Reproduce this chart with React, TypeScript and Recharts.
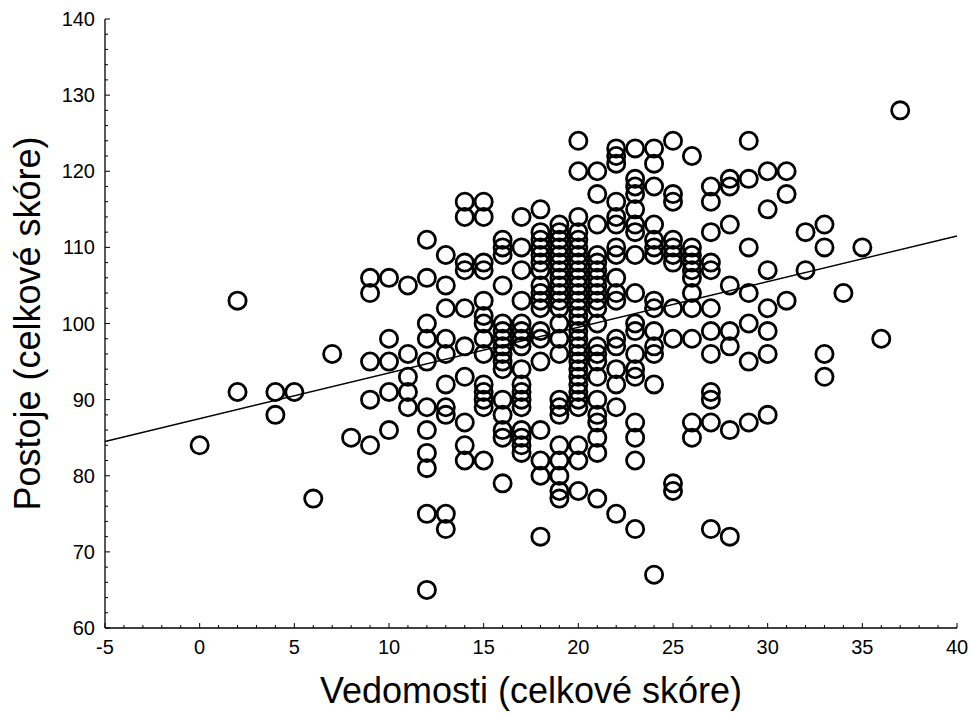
import { ScatterChart, Scatter, XAxis, YAxis, ReferenceLine, Label } from "recharts";

// Vedomosti score (x) and the Postoje scores observed at each x
const vedomosti = [0, 2, 4, 5, 6, 7, 8, 9, 10, 11, 12, 13, 14, 15, 16, 17, 18, 19, 20, 21, 22, 23, 24, 25, 26, 27, 28, 29, 30, 31, 32, 33, 34, 35, 36, 37];
const postoje = [
  [84],
  [103, 91],
  [91, 88],
  [91],
  [77],
  [96],
  [85],
  [106, 104, 95, 90, 84],
  [106, 98, 95, 91, 86],
  [105, 96, 93, 91, 89],
  [111, 106, 100, 98, 95, 89, 86, 83, 81, 75, 65],
  [109, 105, 102, 98, 96, 92, 89, 88, 75, 73],
  [116, 114, 108, 107, 102, 97, 93, 87, 84, 82],
  [116, 114, 108, 107, 103, 101, 100, 98, 96, 92, 91, 90, 89, 82],
  [111, 110, 109, 105, 100, 99, 98, 97, 96, 95, 94, 90, 88, 86, 85, 79],
  [114, 110, 107, 103, 100, 99, 98, 97, 94, 92, 91, 90, 89, 86, 85, 84, 83],
  [115, 112, 111, 110, 109, 108, 107, 105, 104, 103, 102, 99, 98, 95, 86, 82, 80, 72],
  [113, 112, 111, 110, 109, 108, 107, 106, 105, 104, 103, 102, 100, 98, 96, 90, 89, 88, 84, 82, 80, 78, 77],
  [124, 120, 114, 112, 111, 110, 109, 108, 107, 106, 105, 104, 103, 102, 101, 100, 99, 98, 97, 96, 95, 94, 93, 92, 91, 90, 89, 84, 82, 78],
  [120, 117, 113, 109, 108, 107, 106, 105, 104, 103, 102, 100, 97, 96, 95, 93, 90, 88, 87, 85, 83, 77],
  [123, 122, 121, 116, 114, 113, 110, 109, 106, 104, 103, 98, 97, 94, 92, 89, 75],
  [123, 119, 118, 117, 115, 113, 112, 109, 104, 100, 99, 96, 94, 93, 87, 85, 82, 73],
  [123, 121, 118, 113, 111, 110, 109, 103, 102, 99, 97, 96, 92, 67],
  [124, 117, 116, 111, 110, 109, 108, 102, 98, 79, 78],
  [122, 110, 109, 108, 107, 106, 104, 102, 98, 87, 85],
  [118, 116, 112, 108, 107, 102, 99, 96, 91, 90, 87, 73],
  [119, 118, 113, 105, 99, 97, 86, 72],
  [124, 119, 110, 104, 100, 95, 87],
  [120, 115, 107, 102, 99, 96, 88],
  [120, 117, 103],
  [112, 107],
  [113, 110, 96, 93],
  [104],
  [110],
  [98],
  [128],
];

// fitted regression line, ends at the x-axis limits
const fitX = [-5, 40];
const fitY = [84.5, 111.5];

const xMajor = [-5, 0, 5, 10, 15, 20, 25, 30, 35, 40];
const yMajor = [60, 70, 80, 90, 100, 110, 120, 130, 140];
const xTicks = Array.from({ length: 46 }, (_, i) => i - 5);
const yTicks = Array.from({ length: 41 }, (_, i) => 60 + i * 2);

const points = vedomosti.flatMap((x, i) => postoje[i].map((y) => ({ x, y })));

const FONT = "'Liberation Sans', Arial, sans-serif";

const Ring = (props: any) => (
  <circle cx={props.cx} cy={props.cy} r={8.6} fill="none" stroke="#000" strokeWidth={2.8} />
);

const BottomTick = ({ x, y, payload }: any) => {
  const major = xMajor.includes(payload.value);
  return (
    <g>
      <line x1={x} x2={x} y1={y} y2={y - (major ? 5 : 3)} stroke="#000" />
      {major && (
        <text x={x} y={y + 26} textAnchor="middle" fontSize={20} fontFamily={FONT} fill="#000">
          {payload.value}
        </text>
      )}
    </g>
  );
};

const TopTick = ({ x, y, payload }: any) => {
  const major = xMajor.includes(payload.value);
  return <line x1={x} x2={x} y1={y} y2={y + (major ? 5 : 3)} stroke="#000" />;
};

const LeftTick = ({ x, y, payload }: any) => {
  const major = yMajor.includes(payload.value);
  return (
    <g>
      <line x1={x} x2={x + (major ? 5 : 3)} y1={y} y2={y} stroke="#000" />
      {major && (
        <text x={x - 10} y={y + 7} textAnchor="end" fontSize={20} fontFamily={FONT} fill="#000">
          {payload.value}
        </text>
      )}
    </g>
  );
};

const RightTick = ({ x, y, payload }: any) => {
  const major = yMajor.includes(payload.value);
  return <line x1={x} x2={x - (major ? 5 : 3)} y1={y} y2={y} stroke="#000" />;
};

const XTitle = ({ viewBox }: any) => (
  <text x={viewBox.x + viewBox.width / 2} y={viewBox.y + 75} textAnchor="middle" fontSize={36} fontFamily={FONT} fill="#000">
    Vedomosti (celkové skóre)
  </text>
);

const YTitle = ({ viewBox }: any) => {
  const cx = viewBox.x + 40;
  const cy = viewBox.y + viewBox.height / 2;
  return (
    <text x={cx} y={cy} transform={`rotate(-90 ${cx} ${cy})`} textAnchor="middle" fontSize={36} fontFamily={FONT} fill="#000">
      Postoje (celkové skóre)
    </text>
  );
};

export default function App() {
  return (
    <div style={{ position: "absolute", left: 0, top: 0, background: "#fff" }}>
      <ScatterChart width={971} height={713} margin={{ top: 19, right: 14, bottom: 0, left: 0 }}>
        <XAxis
          type="number"
          dataKey="x"
          domain={[-5, 40]}
          ticks={xTicks}
          interval={0}
          height={85}
          tickSize={0}
          tickMargin={0}
          tickLine={false}
          tick={<BottomTick />}
          axisLine={{ stroke: "#000", strokeWidth: 1.3 }}
        >
          <Label content={<XTitle />} />
        </XAxis>
        <XAxis
          xAxisId="top"
          orientation="top"
          type="number"
          domain={[-5, 40]}
          ticks={xTicks}
          interval={0}
          height={0}
          tickSize={0}
          tickMargin={0}
          tickLine={false}
          tick={<TopTick />}
          axisLine={{ stroke: "#000", strokeWidth: 1.3 }}
        />
        <YAxis
          type="number"
          dataKey="y"
          domain={[60, 140]}
          ticks={yTicks}
          interval={0}
          width={105}
          tickSize={0}
          tickMargin={0}
          tickLine={false}
          tick={<LeftTick />}
          axisLine={{ stroke: "#000", strokeWidth: 1.3 }}
        >
          <Label content={<YTitle />} />
        </YAxis>
        <YAxis
          yAxisId="right"
          orientation="right"
          type="number"
          domain={[60, 140]}
          ticks={yTicks}
          interval={0}
          width={0}
          tickSize={0}
          tickMargin={0}
          tickLine={false}
          tick={<RightTick />}
          axisLine={{ stroke: "#000", strokeWidth: 1.3 }}
        />
        <ReferenceLine
          segment={[
            { x: fitX[0], y: fitY[0] },
            { x: fitX[1], y: fitY[1] },
          ]}
          stroke="#000"
          strokeWidth={1.4}
        />
        <Scatter data={points} shape={<Ring />} isAnimationActive={false} />
      </ScatterChart>
    </div>
  );
}
